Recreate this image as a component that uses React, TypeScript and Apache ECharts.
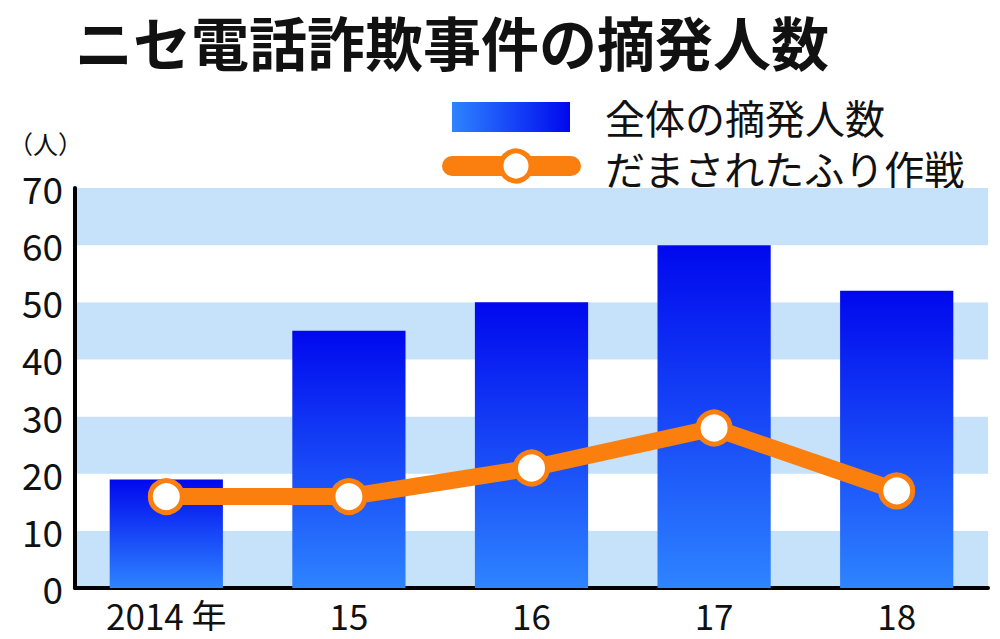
import React, { useEffect, useRef } from "react";
import * as echarts from "echarts";

const categories = ["2014 年", "15", "16", "17", "18"];
const totalArrests = [19, 45, 50, 60, 52];
const pretendScam = [16, 16, 21, 28, 17];
const yMin = 0;
const yMax = 70;
const yInterval = 10;

const FONT = "'Noto Sans CJK JP', 'Noto Sans', sans-serif";
const ORANGE = "#fb7f0f";

export default function App() {
  const ref = useRef<HTMLDivElement>(null);
  useEffect(() => {
    if (!ref.current) return;
    const chart = echarts.init(ref.current, null, { renderer: "svg" });
    chart.setOption({
      animation: false,
      backgroundColor: "#ffffff",
      textStyle: { fontFamily: FONT },
      grid: { left: 75, right: 12, top: 188, bottom: 51, containLabel: false },
      xAxis: {
        type: "category",
        data: categories,
        axisLine: { show: true, lineStyle: { color: "#000", width: 4 } },
        axisTick: { show: false },
        axisLabel: { fontSize: 35, color: "#111", margin: 9, lineHeight: 35, fontFamily: FONT },
        splitLine: { show: false },
      },
      yAxis: {
        type: "value",
        min: yMin,
        max: yMax,
        interval: yInterval,
        axisLine: { show: true, lineStyle: { color: "#000", width: 4 } },
        axisTick: { show: false },
        axisLabel: { fontSize: 37, color: "#111", margin: 12, fontFamily: FONT },
        splitLine: { show: false },
        splitArea: { show: true, areaStyle: { color: ["#c6e1fa", "#ffffff"] } },
      },
      series: [
        {
          name: "全体の摘発人数",
          type: "bar",
          data: totalArrests,
          barWidth: "62%",
          itemStyle: {
            color: new echarts.graphic.LinearGradient(0, 0, 0, 1, [
              { offset: 0, color: "#0008ee" },
              { offset: 1, color: "#2e84ff" },
            ]),
          },
          z: 2,
        },
        {
          name: "だまされたふり作戦",
          type: "line",
          data: pretendScam,
          symbol: "circle",
          symbolSize: 32,
          lineStyle: { color: ORANGE, width: 17 },
          itemStyle: { color: "#ffffff", borderColor: ORANGE, borderWidth: 5 },
          z: 3,
        },
      ],
      graphic: [
        {
          type: "text",
          left: 75,
          top: 12,
          style: {
            text: "ニセ電話詐欺事件の摘発人数",
            fontSize: 58,
            fontWeight: "bold",
            fill: "#111",
            fontFamily: FONT,
          },
        },
        {
          type: "text",
          left: 8,
          top: 130,
          style: { text: "（人）", fontSize: 25, fill: "#111", fontFamily: FONT },
        },
        {
          type: "rect",
          shape: { x: 452, y: 102, width: 118, height: 30 },
          style: {
            fill: new echarts.graphic.LinearGradient(0, 0, 1, 0, [
              { offset: 0, color: "#2e84ff" },
              { offset: 1, color: "#0008ee" },
            ]),
          },
        },
        {
          type: "text",
          left: 605,
          top: 97,
          style: { text: "全体の摘発人数", fontSize: 40, lineHeight: 40, fill: "#111", fontFamily: FONT },
        },
        {
          type: "line",
          shape: { x1: 452, y1: 166, x2: 571, y2: 166 },
          style: { stroke: ORANGE, lineWidth: 20, lineCap: "round" },
        },
        {
          type: "circle",
          shape: { cx: 516, cy: 166, r: 15 },
          style: { fill: "#fff", stroke: ORANGE, lineWidth: 5 },
        },
        {
          type: "text",
          left: 605,
          top: 148,
          style: { text: "だまされたふり作戦", fontSize: 40, lineHeight: 40, fill: "#111", fontFamily: FONT },
        },
      ],
    });
    return () => chart.dispose();
  }, []);
  return <div ref={ref} style={{ width: 1000, height: 639, margin: -8 }} />;
}
